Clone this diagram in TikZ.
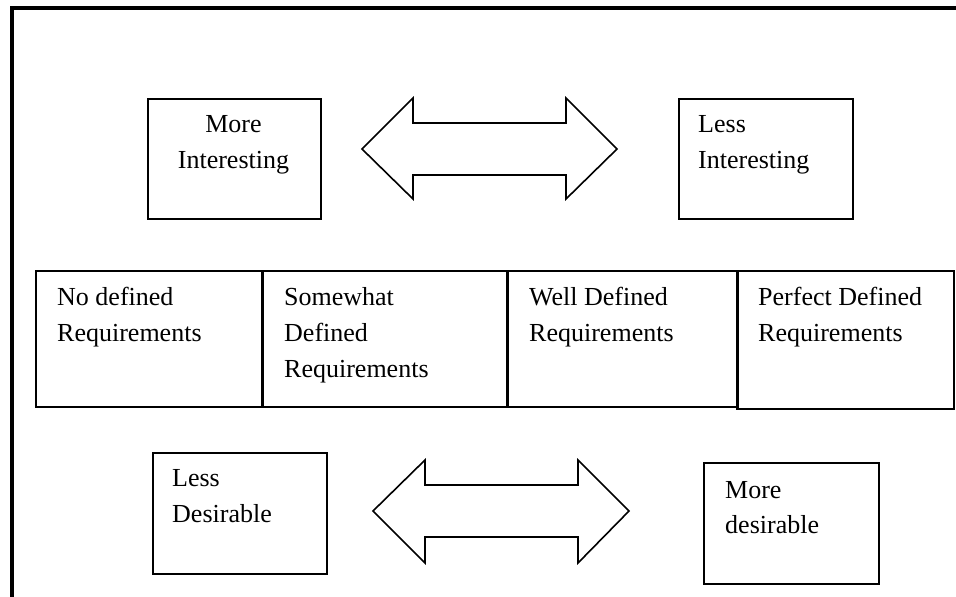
\documentclass[tikz,border=0pt]{standalone}
\usepackage{fontspec}
\setmainfont{Liberation Serif}
\begin{document}
\begin{tikzpicture}[x=1pt,y=-1pt,
  box/.style={draw,line width=1.6pt,inner sep=0pt,anchor=north west},
  divider/.style={draw,line width=2.6pt,inner sep=0pt,anchor=north west},
  txt/.style={anchor=base west,inner sep=0pt,font=\fontsize{26}{36}\selectfont},
  ctxt/.style={anchor=base,inner sep=0pt,font=\fontsize{26}{36}\selectfont},
  dblarrow/.style={draw,line width=1.6pt,line join=miter,fill=white}]
\useasboundingbox (0,0) rectangle (956,597);
% outer frame (top and left edges only)
\draw[line width=4pt] (12,597) -- (12,8) -- (956,8);

% top row
\node[box,minimum width=173pt,minimum height=120pt] (mi) at (147,98) {};
\node[box,minimum width=174pt,minimum height=120pt] (li) at (678,98) {};
\node[ctxt] (mi1) at (233.5,132) {More};
\node[ctxt] (mi2) at (233.5,168) {Interesting};
\node[txt] (li1) at (698,132) {Less};
\node[txt] (li2) at (698,168) {Interesting};
\draw[dblarrow] (362,149) -- (413,98) -- (413,123) -- (566,123) -- (566,98)
  -- (617,149) -- (566,199) -- (566,175) -- (413,175) -- (413,199) -- cycle;

% middle row
\node[box,minimum width=227pt,minimum height=136pt] (r1) at (35,270) {};
\node[box,minimum width=245pt,minimum height=136pt] (r2) at (262,270) {};
\node[box,minimum width=230pt,minimum height=136pt] (r3) at (507,270) {};
\node[box,minimum width=216pt,minimum height=138pt] (r4) at (737,270) {};
\draw[line width=2.6pt] (r2.north west) -- (r2.south west);
\draw[line width=2.6pt] (r3.north west) -- (r3.south west);
\draw[line width=2.6pt] (r4.north west) -- (r4.south west);
\node[txt] (t11) at (57,305) {No defined};
\node[txt] (t12) at (57,341) {Requirements};
\node[txt] (t21) at (284,305) {Somewhat};
\node[txt] (t22) at (284,341) {Defined};
\node[txt] (t23) at (284,377) {Requirements};
\node[txt] (t31) at (529,305) {Well Defined};
\node[txt] (t32) at (529,341) {Requirements};
\node[txt] (t41) at (758,305) {Perfect Defined};
\node[txt] (t42) at (758,341) {Requirements};

% bottom row
\node[box,minimum width=174pt,minimum height=121pt] (ld) at (152,452) {};
\node[box,minimum width=175pt,minimum height=121pt] (md) at (703,462) {};
\node[txt] (ld1) at (172,486) {Less};
\node[txt] (ld2) at (172,522) {Desirable};
\node[txt] (md1) at (725,498) {More};
\node[txt] (md2) at (725,533) {desirable};
\draw[dblarrow] (373,511) -- (425,460) -- (425,485) -- (578,485) -- (578,460)
  -- (629,511) -- (578,563) -- (578,537) -- (425,537) -- (425,563) -- cycle;
\end{tikzpicture}
\end{document}
